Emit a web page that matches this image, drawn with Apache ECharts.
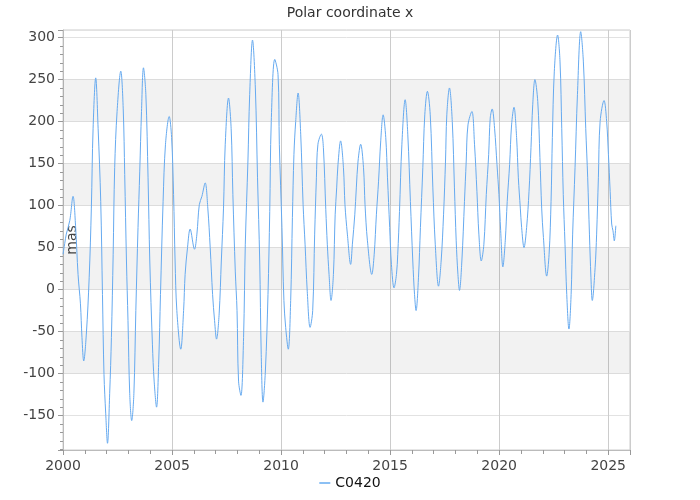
<!DOCTYPE html>
<html>
<head>
<meta charset="utf-8">
<script src="https://cdn.jsdelivr.net/npm/echarts@6/dist/echarts.min.js"></script>
<style>html,body{margin:0;padding:0;background:#fff}#c{width:700px;height:500px}</style>
</head>
<body>
<div id="c"></div>
<script>
var seriesName = 'C0420';
var years = [
2000.00,2000.08,2000.15,2000.31,2000.46,2000.58,2000.69,2000.80,2000.87,2000.95,
2001.07,2001.20,2001.30,2001.38,2001.50,2001.61,2001.73,2001.81,2001.88,2001.96,
2002.04,2002.14,2002.22,2002.30,2002.37,2002.48,2002.65,2002.76,2002.83,2002.91,
2002.98,2003.06,2003.15,2003.25,2003.34,2003.44,2003.52,2003.60,2003.69,2003.80,
2003.90,2003.98,2004.10,2004.18,2004.29,2004.39,2004.47,2004.59,2004.70,2004.87,
2004.98,2005.07,2005.14,2005.22,2005.40,2005.53,2005.60,2005.71,2005.83,2006.03,
2006.14,2006.25,2006.37,2006.52,2006.64,2006.75,2006.86,2006.95,2007.04,2007.16,
2007.26,2007.36,2007.44,2007.59,2007.71,2007.79,2007.90,2007.98,2008.05,2008.16,
2008.28,2008.36,2008.48,2008.56,2008.69,2008.82,2008.92,2009.02,2009.09,2009.17,
2009.28,2009.40,2009.48,2009.55,2009.71,2009.86,2009.92,2010.04,2010.13,2010.21,
2010.33,2010.44,2010.52,2010.59,2010.67,2010.78,2010.90,2011.01,2011.10,2011.20,
2011.33,2011.45,2011.54,2011.62,2011.69,2011.85,2011.94,2012.05,2012.12,2012.20,
2012.29,2012.40,2012.48,2012.55,2012.61,2012.73,2012.86,2012.93,2013.04,2013.19,
2013.27,2013.38,2013.45,2013.53,2013.65,2013.78,2013.85,2013.96,2014.16,2014.27,
2014.37,2014.47,2014.57,2014.68,2014.80,2014.88,2014.98,2015.06,2015.18,2015.29,
2015.35,2015.43,2015.54,2015.69,2015.81,2015.93,2016.04,2016.12,2016.19,2016.30,
2016.39,2016.50,2016.59,2016.71,2016.84,2016.96,2017.07,2017.22,2017.34,2017.45,
2017.54,2017.60,2017.72,2017.85,2017.95,2018.03,2018.11,2018.18,2018.29,2018.41,
2018.49,2018.57,2018.75,2018.87,2018.98,2019.07,2019.18,2019.30,2019.41,2019.52,
2019.59,2019.68,2019.79,2019.90,2019.99,2020.07,2020.17,2020.28,2020.37,2020.48,
2020.57,2020.68,2020.80,2020.88,2020.97,2021.03,2021.14,2021.26,2021.37,2021.46,
2021.54,2021.64,2021.77,2021.87,2021.95,2022.03,2022.18,2022.29,2022.38,2022.44,
2022.53,2022.68,2022.79,2022.87,2022.94,2023.02,2023.10,2023.20,2023.30,2023.37,
2023.48,2023.59,2023.74,2023.86,2023.97,2024.06,2024.14,2024.21,2024.27,2024.40,
2024.47,2024.55,2024.63,2024.81,2024.93,2025.01,2025.09,2025.16,2025.22,2025.28,
2025.35
];
var xValues = [
42,55,66,82,111,74,18,-17,-57,-85,
-53,14,97,192,252,192,105,-6,-101,-148,
-183,-124,-57,42,145,212,260,216,137,34,
-37,-124,-156,-124,-25,74,141,212,264,232,
133,34,-65,-109,-140,-85,-6,105,173,206,
181,113,34,-25,-71,-25,18,50,72,48,
66,101,111,127,97,50,-6,-37,-59,-29,
34,97,173,228,192,113,22,-25,-109,-126,
-57,54,153,232,297,240,133,34,-77,-134,
-97,-6,93,200,274,256,173,74,-13,-45,
-71,-13,86,161,200,234,185,101,54,-2,
-45,-25,66,133,173,185,169,95,54,18,
-13,18,89,121,149,177,145,101,66,30,
54,89,121,153,173,145,101,58,18,42,
89,129,177,208,181,133,74,30,2,18,
42,93,173,226,185,105,34,-6,-25,14,
74,145,208,236,208,121,54,4,34,89,
153,208,240,200,121,58,18,-1,34,105,
153,196,212,173,117,66,34,54,113,161,
204,215,192,149,113,70,27,58,105,149,
196,217,181,133,97,74,50,74,117,169,
220,250,224,157,97,62,16,42,105,181,
260,303,272,192,113,54,-6,-47,-6,66,
145,232,307,272,192,133,66,14,-13,26,
66,133,200,225,200,161,117,78,70,58,
76
];

var yBands = [[-100,-50],[0,50],[100,150],[200,250]];

var data = years.map(function (t, i) { return [t, xValues[i]]; });

var chart = echarts.init(document.getElementById('c'), null, {renderer: 'canvas'});
var font = 'DejaVu Sans';
chart.setOption({
  animation: false,
  backgroundColor: '#ffffff',
  title: {
    text: 'Polar coordinate x',
    left: 'center',
    top: 1,
    textStyle: {fontFamily: font, fontSize: 14, fontWeight: 'normal', color: '#333'}
  },
  legend: {
    bottom: 5,
    left: 'center',
    itemWidth: 11,
    itemHeight: 2,
    icon: 'rect',
    textStyle: {fontFamily: font, fontSize: 14, color: '#111'},
    data: [seriesName]
  },
  grid: {
    left: 63, right: 70, top: 30, bottom: 50,
    show: true, borderColor: '#cccccc', borderWidth: 1, backgroundColor: 'transparent'
  },
  xAxis: {
    type: 'value',
    min: 2000, max: 2026, interval: 5,
    axisLine: {show: true, onZero: false, lineStyle: {color: '#bbbbbb'}},
    axisTick: {show: true, length: 5, lineStyle: {color: '#999'}},
    minorTick: {show: true, splitNumber: 5, length: 4, lineStyle: {color: '#999'}},
    axisLabel: {fontFamily: font, fontSize: 14, color: '#444', showMaxLabel: false, margin: 9,
      formatter: function (v) { return String(v); }},
    splitLine: {show: true, lineStyle: {color: '#cccccc'}}
  },
  yAxis: {
    type: 'value',
    min: -191, max: 309, splitNumber: 10,
    name: 'mas',
    nameLocation: 'middle',
    nameGap: -16,
    nameRotate: 90,
    nameMoveOverlap: false,
    nameTextStyle: {fontFamily: font, fontSize: 14, color: '#444'},
    axisLine: {show: true, lineStyle: {color: '#bbbbbb'}},
    axisTick: {show: true, length: 5, lineStyle: {color: '#999'}},
    minorTick: {show: true, splitNumber: 5, length: 3, lineStyle: {color: '#999'}},
    axisLabel: {fontFamily: font, fontSize: 14, color: '#444', showMinLabel: false, showMaxLabel: false, margin: 8},
    splitLine: {show: true, lineStyle: {color: '#e2e2e2'}}
  },
  series: [{
    name: seriesName,
    type: 'line',
    data: data,
    showSymbol: false,
    smooth: 0.35,
    lineStyle: {color: '#66aaf0', width: 1},
    itemStyle: {color: '#8cc0f4'},
    markArea: {
      silent: true,
      itemStyle: {color: 'rgba(0,0,0,0.05)'},
      data: yBands.map(function (b) { return [{yAxis: b[0]}, {yAxis: b[1]}]; })
    }
  }]
});
</script>
</body>
</html>
